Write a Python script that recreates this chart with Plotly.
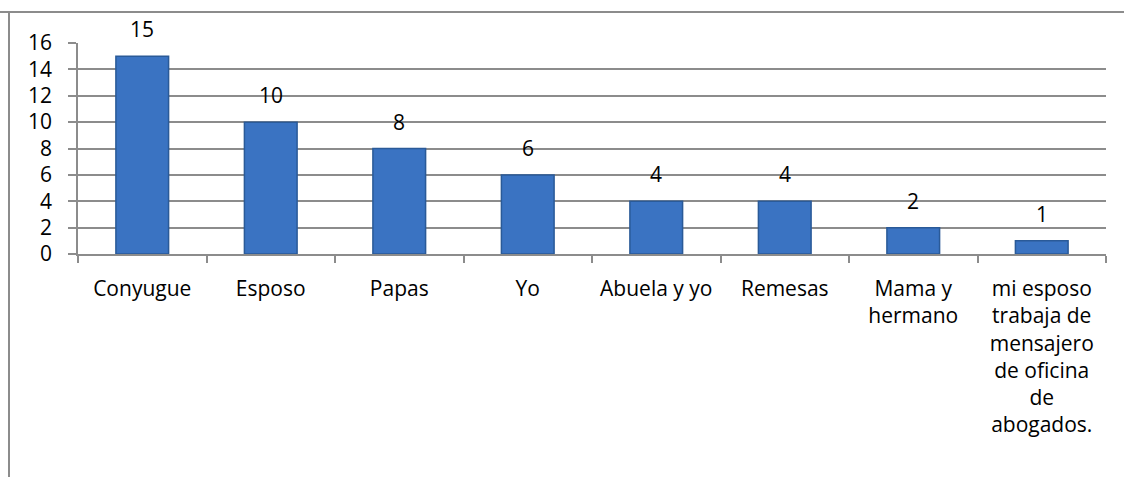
import plotly.graph_objects as go

categories = ["Conyugue", "Esposo", "Papas", "Yo", "Abuela y yo", "Remesas",
              "Mama y<br>hermano",
              "mi esposo<br>trabaja de<br>mensajero<br>de oficina<br>de<br>abogados."]
values = [15, 10, 8, 6, 4, 4, 2, 1]
y_ticks = [0, 2, 4, 6, 8, 10, 12, 14, 16]

FONT = "Open Sans"
FS = 21
fig = go.Figure()
fig.add_trace(go.Bar(
    x=categories, y=values,
    marker=dict(color="#3A73C2", line=dict(color="#2A5A98", width=1.5)),
    width=0.41,
))
for c, v in zip(categories, values):
    fig.add_annotation(x=c, y=v, text=str(v), showarrow=False, yanchor="middle",
                       yshift=27, font=dict(family=FONT, size=FS, color="#000000"))
fig.update_layout(
    width=1124, height=477,
    margin=dict(l=78, r=18, t=43, b=223),
    paper_bgcolor="white", plot_bgcolor="white",
    showlegend=False,
    font=dict(family=FONT, size=FS, color="#000000"),
    shapes=[
        dict(type="line", xref="paper", yref="paper", x0=-78/1028, x1=1.2, y0=1 + 31/211, y1=1 + 31/211,
             line=dict(color="#8C8C8C", width=2)),
        dict(type="line", xref="paper", yref="paper", x0=-69/1028, x1=-69/1028, y0=1 + 31/211, y1=-1.2,
             line=dict(color="#8C8C8C", width=2)),
    ],
)
fig.update_xaxes(
    type="category", showline=True, linecolor="#8C8C8C", linewidth=1.5,
    ticks="outside", tickson="boundaries", ticklen=7, tickcolor="#8C8C8C", tickwidth=1.5,
    showgrid=False, tickfont=dict(family=FONT, size=FS), ticklabelstandoff=15,
)
fig.update_yaxes(
    range=[0, 16], tickvals=y_ticks, showline=True, linecolor="#8C8C8C", linewidth=1.5,
    ticks="outside", ticklen=8, tickcolor="#8C8C8C", tickwidth=1.5,
    showgrid=True, gridcolor="#8C8C8C", gridwidth=2, zeroline=False,
    tickfont=dict(family=FONT, size=FS), ticklabelstandoff=12,
)
fig.write_html("out.html")
